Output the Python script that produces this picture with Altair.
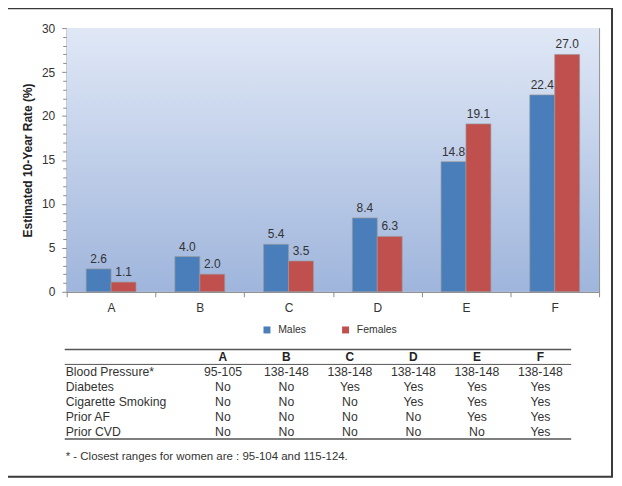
import altair as alt
import pandas as pd

# ---------------- data ----------------
categories = ["A", "B", "C", "D", "E", "F"]
series = ["Males", "Females"]
males = [2.6, 4.0, 5.4, 8.4, 14.8, 22.4]
females = [1.1, 2.0, 3.5, 6.3, 19.1, 27.0]
colors = ["#4a7ebb", "#c0504d"]

row_labels = ["Blood Pressure*", "Diabetes", "Cigarette Smoking", "Prior AF", "Prior CVD"]
blood_pressure = ["95-105", "138-148", "138-148", "138-148", "138-148", "138-148"]
diabetes = ["No", "No", "Yes", "Yes", "Yes", "Yes"]
smoking = ["No", "No", "No", "Yes", "Yes", "Yes"]
prior_af = ["No", "No", "No", "No", "Yes", "Yes"]
prior_cvd = ["No", "No", "No", "No", "No", "Yes"]
footnote = "* - Closest ranges for women are : 95-104 and 115-124."
y_title = "Estimated 10-Year Rate (%)"
y_ticks = list(range(0, 31))

bars_df = pd.DataFrame({
    "cat": categories * 2,
    "sex": ["Males"] * 6 + ["Females"] * 6,
    "rate": males + females,
})
table_rows = [blood_pressure, diabetes, smoking, prior_af, prior_cvd]
body_df = pd.DataFrame([
    {"row": r, "col": c, "val": v}
    for r, vals in zip(row_labels, table_rows)
    for c, v in zip(categories, vals)
])
header_df = pd.DataFrame({"row": ["header"] * 6, "col": categories})
labels_df = pd.DataFrame({"row": row_labels})
one = alt.InlineData(values=[{"k": 1}])

W, H = 535, 265
TXT = "#333333"
AXC = "#8a8a8a"

# ---------------- bar chart ----------------
x_bar = alt.X("cat:N", scale=alt.Scale(domain=categories, paddingInner=0, paddingOuter=0),
              axis=alt.Axis(title=None, tickBand="extent", labelAngle=0, labelFontSize=12,
                            labelColor=TXT, labelPadding=6, tickSize=5, tickColor=AXC,
                            domainColor=AXC))
xo_bar = alt.XOffset("sex:N", scale=alt.Scale(domain=series, paddingInner=0, paddingOuter=0.78))
y_bar = alt.Y("rate:Q", scale=alt.Scale(domain=[0, 30], nice=False),
              axis=alt.Axis(title=y_title, values=y_ticks,
                            labelExpr="datum.value % 5 === 0 ? datum.label : ''",
                            tickSize={"condition": {"test": "datum.value % 5 === 0", "value": 5}, "value": 4},
                            tickColor=AXC, domainColor=AXC, grid=False,
                            labelFontSize=12, labelColor=TXT, labelPadding=7,
                            titleFontSize=12, titleFontWeight="bold", titleColor="#222222",
                            titlePadding=7))

bars = alt.Chart(bars_df).mark_bar(stroke="#9a9a9a", strokeWidth=0.7).encode(
    x=x_bar, xOffset=xo_bar, y=y_bar,
    color=alt.Color("sex:N", scale=alt.Scale(domain=series, range=colors),
                    legend=alt.Legend(title=None, orient="none", legendX=196, legendY=298,
                                      direction="horizontal", symbolType="square",
                                      symbolSize=49, symbolStrokeWidth=0, labelFontSize=10.5,
                                      labelColor=TXT, columnPadding=34, labelOffset=6,
                                      padding=0)),
)
bar_labels = alt.Chart(bars_df).mark_text(baseline="alphabetic", dy=-6, fontSize=12,
                                          color=TXT).encode(
    x=x_bar, xOffset=xo_bar, y=y_bar, text=alt.Text("rate:Q", format=".1f"),
)
bar_layer = alt.layer(bars, bar_labels)

# ---------------- table ----------------
x_tab = alt.X("col:N", scale=alt.Scale(type="point", domain=categories, range=[157, 476], padding=0),
              axis=None)
y_tab = alt.Y("row:N", scale=alt.Scale(type="point", domain=["header"] + row_labels,
                                       range=[331, 406], padding=0), axis=None)

header = alt.Chart(header_df).mark_text(fontSize=12, fontWeight="bold", color="#222222",
                                        baseline="middle").encode(x=x_tab, y=y_tab, text="col:N")
body = alt.Chart(body_df).mark_text(fontSize=12.3, color=TXT, baseline="middle").encode(
    x=x_tab, y=y_tab, text="val:N")
row_text = alt.Chart(labels_df).mark_text(fontSize=12.3, color=TXT, baseline="middle",
                                          align="left").encode(
    x=alt.value(-1), y=y_tab, text="row:N")
table_layer = alt.layer(header, body, row_text)

# ---------------- decorations ----------------
bg = alt.Chart(one).mark_rect(
    fill=alt.LinearGradient(gradient="linear", x1=0, x2=0, y1=0, y2=1,
                            stops=[alt.GradientStop(color="#e0e8f6", offset=0),
                                   alt.GradientStop(color="#9fb5dc", offset=1)])
).encode(x=alt.value(0), x2=alt.value("width"), y=alt.value(0), y2=alt.value("height"))

rule_top = alt.Chart(one).mark_rule(color="#555555", strokeWidth=1.6).encode(
    x=alt.value(-2), x2=alt.value(507), y=alt.value(323))
rule_mid = alt.Chart(one).mark_rule(color="#555555", strokeWidth=1).encode(
    x=alt.value(-2), x2=alt.value(507), y=alt.value(338))
rule_bot = alt.Chart(one).mark_rule(color="#555555", strokeWidth=1.6).encode(
    x=alt.value(-2), x2=alt.value(507), y=alt.value(413))
note = alt.Chart(one).mark_text(fontSize=11.5, color=TXT, align="left", baseline="middle",
                                text=footnote).encode(x=alt.value(-1), y=alt.value(431))
border = alt.Chart(one).mark_rect(fillOpacity=0, stroke="#3a3a3a", strokeWidth=2).encode(
    x=alt.value(-60), x2=alt.value(548), y=alt.value(-20), y2=alt.value(451))

chart = alt.layer(
    bg, bar_layer, table_layer, rule_top, rule_mid, rule_bot, note, border
).resolve_scale(
    x="independent", y="independent"
).properties(
    width=W, height=H,
    autosize=alt.AutoSizeParams(type="none"),
    padding={"left": 59, "top": 19, "right": 15, "bottom": 190},
).configure(
    font="Liberation Sans"
).configure_view(
    stroke=AXC, strokeWidth=1
)

chart.save("out.html", embed_options={"renderer": "svg", "actions": False})
